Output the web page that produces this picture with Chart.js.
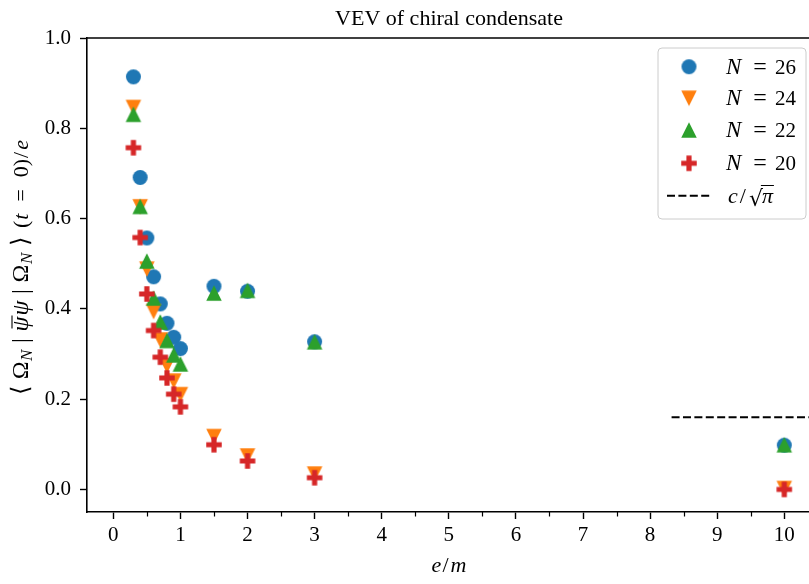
<!DOCTYPE html>
<html><head><meta charset="utf-8">
<script src="https://cdn.jsdelivr.net/npm/chart.js@4"></script>
<style>html,body{margin:0;padding:0;background:#fff;overflow:hidden}#wrap{width:809px;height:584px;position:relative}</style>
</head><body><div id="wrap"><canvas id="c" width="809" height="584"></canvas></div>
<script>
// ---- data ----
const eOverM = [0.3, 0.4, 0.5, 0.6, 0.7, 0.8, 0.9, 1.0, 1.5, 2, 3, 10];
const vevN26 = [0.914, 0.691, 0.557, 0.471, 0.411, 0.368, 0.337, 0.312, 0.450, 0.439, 0.327, 0.098];
const vevN24 = [0.846, 0.626, 0.488, 0.394, 0.331, 0.274, 0.240, 0.210, 0.117, 0.074, 0.034, 0.002];
const vevN22 = [0.831, 0.627, 0.506, 0.424, 0.371, 0.330, 0.298, 0.278, 0.435, 0.441, 0.327, 0.099];
const vevN20 = [0.757, 0.558, 0.433, 0.352, 0.293, 0.247, 0.211, 0.183, 0.099, 0.063, 0.026, 0.000];
const limitValue = 0.16;            // c / sqrt(pi)
const limitXRange = [8.32, 10.6];
const xTicks = [0, 1, 2, 3, 4, 5, 6, 7, 8, 9, 10];
const xMinorTicks = [0.5, 1.5, 2.5, 3.5, 4.5, 5.5, 6.5, 7.5, 8.5, 9.5];
const yTicks = [0.0, 0.2, 0.4, 0.6, 0.8, 1.0];
const seriesLabels = ['26', '24', '22', '20'];
const titleText = 'VEV of chiral condensate';

// ---- styles ----
const SERIF = "'Liberation Serif', 'Times New Roman', serif";
const colors = ['#1f77b4', '#ff7f0e', '#2ca02c', '#d62728'];
const kinds = ['circle', 'tri_down', 'tri_up', 'plus'];

function markerCanvas(kind, color, size) {
  const pad = 2, s = Math.ceil(size + pad * 2);
  const c = document.createElement('canvas'); c.width = s; c.height = s;
  const g = c.getContext('2d'); g.fillStyle = color;
  const cx = s / 2, cy = s / 2, h = size / 2, a = size / 6;
  g.beginPath();
  if (kind === 'circle') g.arc(cx, cy, h, 0, 2 * Math.PI);
  else if (kind === 'tri_down') { g.moveTo(cx - h, cy - h); g.lineTo(cx + h, cy - h); g.lineTo(cx, cy + h); }
  else if (kind === 'tri_up') { g.moveTo(cx - h, cy + h); g.lineTo(cx + h, cy + h); g.lineTo(cx, cy - h); }
  else {
    const p = [[-1,-3],[1,-3],[1,-1],[3,-1],[3,1],[1,1],[1,3],[-1,3],[-1,1],[-3,1],[-3,-1],[-1,-1]];
    p.forEach((q, i) => i ? g.lineTo(cx + q[0] * a, cy + q[1] * a) : g.moveTo(cx + q[0] * a, cy + q[1] * a));
  }
  g.closePath(); g.fill();
  return c;
}
const sizes = [15, 15.5, 15.5, 15.5];
const markers = kinds.map((k, i) => markerCanvas(k, colors[i], sizes[i]));

const allSeries = [vevN26, vevN24, vevN22, vevN20];
const datasets = allSeries.map((vals, i) => ({
  type: 'scatter',
  label: 'N = ' + seriesLabels[i],
  data: eOverM.map((x, j) => ({ x: x, y: vals[j] })),
  pointStyle: markers[i],
  pointRadius: 8,
  backgroundColor: colors[i],
  borderColor: colors[i],
  order: 4 - i
}));
datasets.push({
  type: 'line',
  label: 'c/sqrt(pi)',
  data: limitXRange.map(x => ({ x: x, y: limitValue })),
  borderColor: '#000', borderWidth: 2, borderDash: [8, 3.4],
  pointRadius: 0, showLine: true, fill: false, order: 0
});

// rich text helpers
function font(style, size) { return (style === 'i' ? 'italic ' : '') + size + 'px ' + SERIF; }
function runsWidth(ctx, runs) {
  let w = 0;
  runs.forEach(r => { ctx.font = font(r.s, r.size); w += ctx.measureText(r.t).width + (r.gap || 0); });
  return w;
}
function drawRuns(ctx, runs, x, y) {
  let cx = x;
  runs.forEach(r => {
    ctx.font = font(r.s, r.size);
    ctx.fillText(r.t, cx, y + (r.dy || 0));
    const w = ctx.measureText(r.t).width;
    if (r.bar) { ctx.save(); ctx.lineWidth = 1.1; ctx.beginPath(); ctx.moveTo(cx + 3, y - 16); ctx.lineTo(cx + w + 1, y - 16); ctx.stroke(); ctx.restore(); }
    cx += w + (r.gap || 0);
  });
  return cx;
}
// spread extra space over the runs that are not marked tight
function spread(ctx, runs, len) {
  const nat = runsWidth(ctx, runs);
  const loose = runs.filter((r, i) => i < runs.length - 1 && !r.tight).length;
  const extra = (len - nat) / loose;
  return runs.map((r, i) => Object.assign({}, r, { gap: (r.gap || 0) + (i < runs.length - 1 && !r.tight ? extra : 0) }));
}

const deco = {
  id: 'deco',
  afterDraw(chart) {
    const ctx = chart.ctx, a = chart.chartArea, xs = chart.scales.x;
    ctx.save();
    ctx.strokeStyle = '#000'; ctx.fillStyle = '#000';
    ctx.lineWidth = 1.6;
    ctx.beginPath(); ctx.moveTo(a.left - 0.8, a.top); ctx.lineTo(a.right + 2, a.top); ctx.stroke();
    ctx.lineWidth = 1.2;
    xMinorTicks.forEach(v => {
      const px = Math.round(xs.getPixelForValue(v)) + 0.5;
      ctx.beginPath(); ctx.moveTo(px, a.bottom); ctx.lineTo(px, a.bottom + 4.5); ctx.stroke();
    });
    ctx.textBaseline = 'alphabetic'; ctx.textAlign = 'center';
    ctx.font = font('r', 22);
    ctx.fillText(titleText, 449, 25);
    ctx.textAlign = 'left';
    const xl = [{ t: 'e', s: 'i', size: 22, gap: 1 }, { t: '/', s: 'r', size: 22, gap: 2 }, { t: 'm', s: 'i', size: 22 }];
    drawRuns(ctx, xl, 449 - runsWidth(ctx, xl) / 2, 572);
    const segA = [
      { t: '\u27E8', s: 'r', size: 24 },
      { t: '\u03A9', s: 'r', size: 24, tight: true, gap: 0.5 },
      { t: 'N', s: 'i', size: 17, dy: 4 },
      { t: '|', s: 'r', size: 24 },
      { t: '\u03C8', s: 'i', size: 24, bar: true, tight: true, gap: 1 },
      { t: '\u03C8', s: 'i', size: 24 },
      { t: '|', s: 'r', size: 24 },
      { t: '\u03A9', s: 'r', size: 24, tight: true, gap: 0.5 },
      { t: 'N', s: 'i', size: 17, dy: 4 },
      { t: '\u27E9', s: 'r', size: 24 }
    ];
    const segB = [
      { t: '(', s: 'r', size: 22, tight: true, gap: 1 },
      { t: 't', s: 'i', size: 22 },
      { t: '=', s: 'r', size: 22 },
      { t: '0)', s: 'r', size: 22, tight: true, gap: 1 },
      { t: '/', s: 'r', size: 22, tight: true, gap: 2 },
      { t: 'e', s: 'i', size: 22 }
    ];
    ctx.save();
    ctx.translate(28, 395); ctx.rotate(-Math.PI / 2);
    drawRuns(ctx, spread(ctx, segA, 158), 0, 0);
    drawRuns(ctx, spread(ctx, segB, 88), 167, 0);
    ctx.restore();
    // legend
    const lx = 658, ly = 48, lw = 148, lh = 171, r = 4;
    ctx.beginPath();
    ctx.moveTo(lx + r, ly); ctx.lineTo(lx + lw - r, ly); ctx.arcTo(lx + lw, ly, lx + lw, ly + r, r);
    ctx.lineTo(lx + lw, ly + lh - r); ctx.arcTo(lx + lw, ly + lh, lx + lw - r, ly + lh, r);
    ctx.lineTo(lx + r, ly + lh); ctx.arcTo(lx, ly + lh, lx, ly + lh - r, r);
    ctx.lineTo(lx, ly + r); ctx.arcTo(lx, ly, lx + r, ly, r); ctx.closePath();
    ctx.fillStyle = 'rgba(255,255,255,0.8)'; ctx.fill();
    ctx.strokeStyle = '#cccccc'; ctx.lineWidth = 1; ctx.stroke();
    ctx.fillStyle = '#000'; ctx.strokeStyle = '#000';
    const rowY = [66.7, 98.3, 130, 163.3];
    seriesLabels.forEach((lab, i) => {
      const m = markers[i];
      ctx.drawImage(m, 689 - m.width / 2, rowY[i] - m.height / 2);
      const by = rowY[i] + 7;
      ctx.textAlign = 'left';
      ctx.font = font('i', 23); ctx.fillText('N', 726, by);
      ctx.textAlign = 'center';
      ctx.font = font('r', 24); ctx.fillText('=', 760, by);
      ctx.textAlign = 'left';
      ctx.font = font('r', 21); ctx.fillText(lab, 775, by);
    });
    const dy = 195.7;
    ctx.lineWidth = 2; ctx.setLineDash([8, 3.4]);
    ctx.beginPath(); ctx.moveTo(667, dy); ctx.lineTo(710, dy); ctx.stroke();
    ctx.setLineDash([]);
    ctx.textAlign = 'left';
    const by = 203;
    ctx.font = font('i', 22); ctx.fillText('c', 728, by);
    let cx = 728 + ctx.measureText('c').width + 2;
    ctx.font = font('r', 22); ctx.fillText('/', cx, by);
    cx += ctx.measureText('/').width + 3;
    ctx.font = "22px 'DejaVu Serif', serif"; ctx.fillText('\u221A', cx, by + 3);
    cx += ctx.measureText('\u221A').width - 1;
    ctx.font = font('i', 22); ctx.fillText('\u03C0', cx, by);
    const pw = ctx.measureText('\u03C0').width;
    ctx.lineWidth = 1; ctx.beginPath(); ctx.moveTo(cx - 1, by - 17.5); ctx.lineTo(cx + pw + 1, by - 17.5); ctx.stroke();
    ctx.restore();
  }
};

new Chart(document.getElementById('c'), {
  type: 'scatter',
  data: { datasets: datasets },
  options: {
    responsive: false, animation: false,
    layout: { autoPadding: false, padding: { top: 38, left: 0, right: 0, bottom: 0 } },
    plugins: { legend: { display: false }, title: { display: false }, tooltip: { enabled: false } },
    scales: {
      x: {
        type: 'linear', position: 'bottom', min: -0.392, max: 10.368,
        grid: { drawOnChartArea: false, tickLength: 7, tickWidth: 1.4, tickColor: '#000' },
        border: { color: '#000', width: 1.6 },
        ticks: { color: '#000', font: { family: SERIF, size: 21 }, padding: 4, maxRotation: 0, autoSkip: false, callback: v => String(v) },
        afterBuildTicks: s => { s.ticks = xTicks.map(v => ({ value: v })); },
        afterFit: s => { s.height = 72; s.paddingLeft = 0; s.paddingRight = 0; }
      },
      y: {
        type: 'linear', position: 'left', min: -0.05, max: 1.0,
        grid: { drawOnChartArea: false, tickLength: 7, tickWidth: 1.4, tickColor: '#000' },
        border: { color: '#000', width: 1.6 },
        ticks: { color: '#000', font: { family: SERIF, size: 21 }, padding: 9, autoSkip: false, callback: v => v.toFixed(1) },
        afterBuildTicks: s => { s.ticks = yTicks.map(v => ({ value: v })); },
        afterFit: s => { s.width = 87; s.paddingTop = 0; s.paddingBottom = 0; }
      }
    }
  },
  plugins: [deco]
});
</script></body></html>
